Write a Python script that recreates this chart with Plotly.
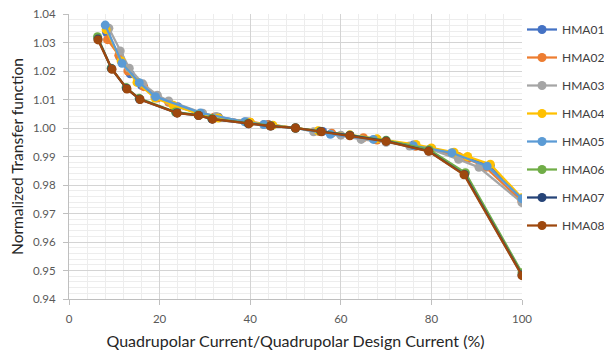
import plotly.graph_objects as go

series_names = ["HMA01", "HMA02", "HMA03", "HMA04", "HMA05", "HMA06", "HMA07", "HMA08"]
colors = ["#4472C4", "#ED7D31", "#A5A5A5", "#FFC000", "#5B9BD5", "#70AD47", "#264478", "#9E480E"]

hma01_x = [8.3, 11.2, 13.5, 16, 19, 24, 29, 33, 39.5, 44, 50, 56, 62, 68, 76, 80, 85, 88, 93, 100]
hma01_y = [1.0335, 1.025, 1.019, 1.015, 1.011, 1.0075, 1.005, 1.0038, 1.0021, 1.0012, 1.000, 0.9988, 0.9975, 0.996, 0.994, 0.9928, 0.9912, 0.9897, 0.9868, 0.9748]

hma02_x = [8.5, 11, 13, 16.5, 19.5, 22, 29, 32, 40, 44, 50, 55, 58, 65, 68, 76.5, 80, 86, 88, 92, 100]
hma02_y = [1.031, 1.0255, 1.020, 1.0145, 1.0105, 1.009, 1.0048, 1.0038, 1.002, 1.0011, 1.000, 0.9989, 0.9982, 0.9966, 0.9958, 0.9936, 0.9926, 0.9900, 0.9892, 0.9862, 0.9742]

hma03_x = [8.8, 11.3, 13.3, 16.3, 19.5, 22, 29.5, 32.5, 39, 43, 50, 54, 60, 64.5, 70, 75.2, 80, 86, 90.5, 100]
hma03_y = [1.035, 1.027, 1.021, 1.0155, 1.0115, 1.0095, 1.0052, 1.004, 1.0022, 1.0012, 1.000, 0.9987, 0.9975, 0.996, 0.995, 0.9937, 0.9925, 0.989, 0.9862, 0.9738]

hma04_x = [8.2, 11.5, 15, 19, 23, 29, 33, 40, 45, 50, 55, 62, 68, 76.6, 80, 85, 88, 93, 100]
hma04_y = [1.0345, 1.0235, 1.016, 1.0105, 1.008, 1.0048, 1.0035, 1.002, 1.001, 1.000, 0.999, 0.9976, 0.9962, 0.9942, 0.993, 0.9915, 0.990, 0.9873, 0.9755]

hma05_x = [8, 11.7, 15.5, 19.1, 29, 38.8, 43, 50, 57.7, 67.2, 76, 84.5, 92.3, 100]
hma05_y = [1.0361, 1.0227, 1.0159, 1.011, 1.0053, 1.0022, 1.0012, 1.000, 0.9978, 0.996, 0.9938, 0.9913, 0.9866, 0.9752]

hma06_x = [6.3, 9.3, 12.6, 15.5, 23.5, 28.5, 31.5, 39.5, 44.5, 50, 55.5, 62, 70, 79.5, 87.5, 100]
hma06_y = [1.032, 1.021, 1.0142, 1.0104, 1.0056, 1.0046, 1.0033, 1.0017, 1.0008, 1.000, 0.9989, 0.9975, 0.9957, 0.9924, 0.9843, 0.9492]

hma07_x = [6.4, 9.4, 12.7, 15.6, 23.8, 28.6, 31.6, 39.6, 44.5, 50, 55.6, 62, 70, 79.4, 87.3, 100]
hma07_y = [1.0312, 1.0208, 1.0139, 1.0101, 1.0053, 1.0044, 1.0031, 1.0015, 1.0007, 1.000, 0.9988, 0.9974, 0.9954, 0.9919, 0.9837, 0.9484]

hma08_x = [6.4, 9.5, 12.8, 15.7, 23.9, 28.6, 31.7, 39.7, 44.5, 50, 55.7, 62, 70, 79.4, 87.2, 100]
hma08_y = [1.0309, 1.0206, 1.0137, 1.0100, 1.0052, 1.0044, 1.0031, 1.0015, 1.0007, 1.000, 0.9987, 0.9973, 0.9953, 0.9918, 0.9836, 0.9482]

xs = [hma01_x, hma02_x, hma03_x, hma04_x, hma05_x, hma06_x, hma07_x, hma08_x]
ys = [hma01_y, hma02_y, hma03_y, hma04_y, hma05_y, hma06_y, hma07_y, hma08_y]

x_title = "Quadrupolar Current/Quadrupolar Design Current (%)"
y_title = "Normalized Transfer function"

FONT = "Lato, 'Open Sans', sans-serif"

fig = go.Figure()
for name, c, x, y in zip(series_names, colors, xs, ys):
    fig.add_trace(go.Scatter(
        x=x, y=y, name=name, mode="lines+markers", legendgroup=name,
        line=dict(color=c, width=2.25),
        marker=dict(color=c, size=9),
    ))

# the page body adds an 8px offset, so the figure is 8px smaller
fig.update_layout(
    width=604, height=350,
    margin=dict(l=61, r=89, t=6, b=59),
    plot_bgcolor="white", paper_bgcolor="white",
    font=dict(family=FONT, size=11.5, color="#404040"),
    legend=dict(xref="container", yref="container",
                x=0.851, xanchor="left", y=0.980, yanchor="top",
                maxheight=330,
                font=dict(family=FONT, size=12, color="#404040"),
                tracegroupgap=9, itemwidth=30, bgcolor="rgba(0,0,0,0)"),
    xaxis=dict(
        range=[0, 100], tickmode="linear", tick0=0, dtick=20,
        automargin=False, ticklabeloverflow="allow",
        showgrid=True, gridcolor="#D4D4D4", gridwidth=1,
        minor=dict(dtick=4, showgrid=True, gridcolor="#EDEDED", gridwidth=1),
        showline=True, linecolor="#BFBFBF", linewidth=1,
        ticks="outside", ticklen=5, tickcolor="#BFBFBF",
        ticklabelstandoff=4,
        zeroline=False,
        tickfont=dict(family=FONT, size=11.5, color="#595959"),
        title=dict(text=x_title, font=dict(family=FONT, size=16, color="#262626"), standoff=12),
    ),
    yaxis=dict(
        range=[0.94, 1.04], tickmode="linear", tick0=0.94, dtick=0.01,
        tickformat=".2f", automargin=False, ticklabeloverflow="allow",
        showgrid=True, gridcolor="#D4D4D4", gridwidth=1,
        minor=dict(dtick=0.002, showgrid=True, gridcolor="#EDEDED", gridwidth=1),
        showline=True, linecolor="#BFBFBF", linewidth=1,
        ticks="outside", ticklen=5, tickcolor="#BFBFBF",
        ticklabelstandoff=5,
        zeroline=False,
        tickfont=dict(family=FONT, size=11.5, color="#595959"),
        title=dict(text=y_title, font=dict(family=FONT, size=15.5, color="#262626"), standoff=9),
    ),
)

fig.write_html("out.html")
